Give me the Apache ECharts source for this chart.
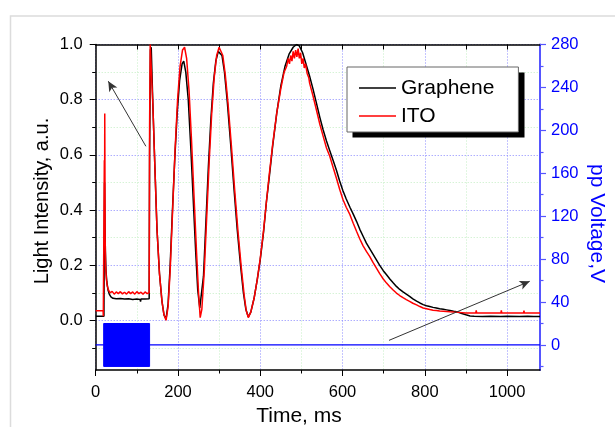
<!DOCTYPE html>
<html>
<head>
<meta charset="utf-8">
<script src="https://cdn.jsdelivr.net/npm/echarts@6/dist/echarts.min.js"></script>
<style>
html,body{margin:0;padding:0;background:#fff;}
#chart{width:615px;height:427px;}
</style>
</head>
<body>
<div id="chart"></div>
<script>
// ---- data (time in ms, light intensity in a.u.) ----
const graphene = [
 [0,0.015],[20,0.015],[21,0.015],[21.5,0.5],[22.5,0.35],[23.5,0.25],[25,0.18],[27,0.14],[30,0.11],[33,0.095],[37,0.085],[42,0.08],
 [50,0.078],[60,0.079],[70,0.077],[80,0.078],[90,0.076],[100,0.077],[108,0.076],[109,0.068],[110,0.077],[120,0.077],[130,0.078],
 [131,0.6],[133,0.98],[135,0.99],[139,0.78],[144,0.55],[149,0.33],[155,0.17],[161,0.07],[166,0.02],[171,0.005],
 [176,0.06],[181,0.2],[186,0.38],[192,0.58],[198,0.75],[204,0.87],[210,0.93],[214,0.94],[219,0.9],[225,0.8],[231,0.63],
 [237,0.44],[243,0.25],[248,0.11],[253,0.045],[256,0.05],[262,0.16],[268,0.36],[274,0.56],[280,0.73],[286,0.86],[292,0.94],
 [298,0.975],[302,0.978],[307,0.96],[313,0.9],[320,0.79],[328,0.64],[336,0.48],[344,0.33],[352,0.2],[359,0.1],[365,0.04],
 [371,0.012],[377,0.03],[385,0.08],[393,0.15],[400,0.22],[408,0.32],[415,0.43],[422,0.52],[430,0.63],[440,0.75],[450,0.85],
 [460,0.92],[470,0.965],[480,0.99],[488,1.0],[495,0.995],[503,0.97],[511,0.93],[520,0.885],[528,0.84],[537,0.785],[545,0.735],
 [553,0.69],[561,0.65],[569,0.615],[577,0.58],[585,0.545],[593,0.505],[601,0.47],[609,0.44],[618,0.41],[626,0.385],[634,0.359],
 [642,0.33],[650,0.305],[658,0.28],[666,0.26],[674,0.24],[682,0.22],[690,0.2],[699,0.18],[707,0.165],[715,0.15],[723,0.136],
 [731,0.123],[739,0.112],[747,0.103],[755,0.095],[763,0.087],[771,0.078],[780,0.07],[788,0.063],[796,0.057],[804,0.053],
 [812,0.05],[820,0.047],[828,0.045],[836,0.042],[845,0.04],[853,0.038],[861,0.036],[870,0.033],[880,0.03],[890,0.025],
 [900,0.02],[910,0.016],[920,0.015],[940,0.014],[960,0.015],[961,0.008],[962,0.015],[985,0.014],[1000,0.015],[1001,0.008],
 [1002,0.015],[1030,0.014],[1050,0.015],[1051,0.009],[1052,0.015],[1065,0.014],[1066,0.008],[1067,0.014],[1080,0.014]
];
const ito = [
 [0,0.035],[18,0.035],[18.5,0.015],[20.5,0.015],[21,0.58],[21.5,0.3],[22,0.75],[23,0.3],[24,0.2],[26,0.15],[28,0.125],[31,0.11],
 [35,0.1],[40,0.105],[45,0.095],[50,0.103],[55,0.097],[60,0.104],[65,0.096],[70,0.102],[75,0.095],[80,0.104],[85,0.097],
 [90,0.103],[95,0.095],[100,0.104],[105,0.097],[110,0.102],[115,0.095],[120,0.103],[125,0.097],[130,0.1],
 [131,0.7],[132.5,1.0],[135,1.0],[139,0.78],[144,0.55],[149,0.33],[155,0.17],[161,0.07],[166,0.02],[171,0.0],
 [176,0.05],[181,0.18],[187,0.4],[193,0.62],[199,0.8],[205,0.92],[211,0.98],[216,0.99],[221,0.95],[227,0.83],[233,0.65],
 [239,0.45],[245,0.25],[250,0.1],[254,0.01],[258,0.04],[264,0.18],[270,0.38],[276,0.58],[282,0.75],[288,0.88],[294,0.96],
 [300,0.99],[304,0.99],[309,0.96],[315,0.89],[322,0.78],[330,0.63],[338,0.47],[346,0.32],[354,0.19],[361,0.09],[366,0.035],
 [371,0.01],[377,0.03],[385,0.08],[393,0.15],[400,0.225],[408,0.325],[415,0.43],[422,0.53],[430,0.635],[440,0.75],[450,0.84],
 [458,0.9],[464,0.92],[468,0.95],[471,0.93],[474,0.96],[477,0.94],[480,0.975],[483,0.95],[486,0.98],[489,0.955],[492,0.985],
 [495,0.95],[498,0.97],[501,0.93],[504,0.95],[507,0.915],[510,0.93],[514,0.895],[518,0.88],[520,0.86],[528,0.815],[537,0.76],
 [545,0.71],[553,0.667],[561,0.625],[569,0.595],[577,0.555],[585,0.516],[593,0.475],[601,0.438],[609,0.41],[618,0.383],
 [626,0.352],[634,0.323],[642,0.295],[650,0.27],[658,0.25],[666,0.232],[674,0.21],[682,0.19],[690,0.17],[699,0.15],[707,0.135],
 [715,0.122],[723,0.11],[731,0.099],[739,0.09],[747,0.082],[755,0.075],[763,0.069],[771,0.062],[780,0.056],[788,0.05],
 [796,0.045],[804,0.042],[812,0.039],[820,0.037],[828,0.036],[836,0.034],[845,0.033],[853,0.032],[861,0.031],[870,0.03],
 [880,0.029],[890,0.028],[900,0.027],[924,0.027],[925,0.036],[926,0.027],[955,0.027],[956,0.034],[957,0.027],[985,0.027],
 [986,0.036],[987,0.027],[1010,0.027],[1011,0.034],[1012,0.027],[1040,0.027],[1041,0.035],[1042,0.027],[1065,0.027],
 [1066,0.034],[1067,0.027],[1080,0.027]
];
// pp voltage (V): zero baseline and the driving pulse block
const voltageT = [0, 1080];
const voltageV = [0, 0];
const pulseStart = 19.4, pulseEnd = 131, pulseAmp = 20;
// arrows [tail, head] in (ms, a.u.)
const arrow1 = [[122, 0.631], [30.6, 0.867]];
const arrow2 = [[713, -0.0725], [1055, 0.1415]];
// tick values
const xMajor = [0, 200, 400, 600, 800, 1000];
const xMinor = [100, 300, 500, 700, 900];
const xTop = [100, 200, 300, 400, 500, 600, 700, 800, 900, 1000];
const yMajor = [0, 0.2, 0.4, 0.6, 0.8, 1.0];
const yMinor = [-0.1, 0.1, 0.3, 0.5, 0.7, 0.9];
const vMajor = [0, 40, 80, 120, 160, 200, 240, 280];
const vMinor = [-20, 20, 60, 100, 140, 180, 220, 260];
// titles
const xTitle = 'Time, ms';
const yTitle = 'Light Intensity, a.u.';
const vTitle = 'pp Voltage,V';

const FONT = 'Liberation Sans, Arial, sans-serif';
const BLUE = '#0000ff';
const chart = echarts.init(document.getElementById('chart'), null, {renderer: 'canvas'});

chart.setOption({
  backgroundColor: '#fff',
  animation: false,
  graphic: [
    {
      type: 'rect', silent: true, z: -10,
      shape: {x: 10.5, y: 16, width: 700, height: 600},
      style: {fill: null, stroke: '#dcdcdc', lineWidth: 1.5}
    },
    {
      // legend drop shadow
      type: 'rect', silent: true, z: 3.5,
      shape: {x: 352.5, y: 72.5, width: 172, height: 65},
      style: {fill: '#000'}
    },
    {
      type: 'text', silent: true, x: 299, y: 416, z: 5,
      style: {text: xTitle, font: '21px ' + FONT, fill: '#000', align: 'center', verticalAlign: 'middle'}
    },
    {
      type: 'text', silent: true, x: 42.5, y: 201, rotation: Math.PI / 2, z: 5,
      style: {text: yTitle, font: '20px ' + FONT, fill: '#000', align: 'center', verticalAlign: 'middle'}
    },
    {
      type: 'text', silent: true, x: 597, y: 223.5, rotation: -Math.PI / 2, z: 5,
      style: {text: vTitle, font: '21px ' + FONT, fill: BLUE, align: 'center', verticalAlign: 'middle'}
    }
  ],
  grid: {left: 95.7, right: 75, top: 44.5, bottom: 57, containLabel: false},
  legend: {
    data: ['Graphene', 'ITO'],
    orient: 'vertical', left: 347, top: 67, z: 5,
    icon: 'rect', itemWidth: 37, itemHeight: 1.5,
    padding: [10, 24, 5, 12], itemGap: 6,
    backgroundColor: '#fff', borderColor: '#666', borderWidth: 1,
    textStyle: {fontFamily: FONT, fontSize: 21, color: '#000', lineHeight: 22},
    selectedMode: false
  },
  xAxis: [
    {
      type: 'value', position: 'bottom', min: 0, max: 1080,
      axisLine: {show: true, onZero: false, lineStyle: {color: '#000', width: 1.5}},
      axisTick: {show: true, customValues: xMajor, length: 6, lineStyle: {color: '#000', width: 1}},
      axisLabel: {show: true, customValues: xMajor, margin: 14, fontFamily: FONT, fontSize: 16.5, color: '#000',
                  formatter: v => String(v)},
      splitLine: {show: true, lineStyle: {color: '#8888ff', width: 1, type: [1, 2]}}
    },
    {
      type: 'value', position: 'bottom', min: 0, max: 1080,
      axisLine: {show: false, onZero: false},
      axisTick: {show: true, customValues: xMinor, length: 3.5, lineStyle: {color: '#000', width: 1}},
      axisLabel: {show: false},
      splitLine: {show: true, lineStyle: {color: '#c4eec4', width: 1, type: [1, 2]}}
    },
    {
      type: 'value', position: 'top', min: 0, max: 1080,
      axisLine: {show: true, onZero: false, lineStyle: {color: '#000', width: 1.5}},
      axisTick: {show: true, inside: true, customValues: xTop, length: 5, lineStyle: {color: '#000', width: 1}},
      axisLabel: {show: false},
      splitLine: {show: false}
    }
  ],
  yAxis: [
    {
      type: 'value', position: 'left', min: -0.18, max: 1.0,
      axisLine: {show: true, onZero: false, lineStyle: {color: '#000', width: 1.5}},
      axisTick: {show: true, customValues: yMajor, length: 6, lineStyle: {color: '#000', width: 1}},
      axisLabel: {show: true, customValues: yMajor, margin: 13, fontFamily: FONT, fontSize: 16.5, color: '#000',
                  formatter: v => v.toFixed(1)},
      splitLine: {show: true, lineStyle: {color: '#8888ff', width: 1, type: [1, 2]}}
    },
    {
      type: 'value', position: 'left', min: -0.18, max: 1.0,
      axisLine: {show: false, onZero: false},
      axisTick: {show: true, customValues: yMinor, length: 3.5, lineStyle: {color: '#000', width: 1}},
      axisLabel: {show: false},
      splitLine: {show: true, lineStyle: {color: '#c4eec4', width: 1, type: [1, 2]}}
    },
    {
      type: 'value', position: 'right', min: -23.33, max: 280,
      axisLine: {show: true, onZero: false, lineStyle: {color: '#5555ff', width: 2}},
      axisTick: {show: true, customValues: vMajor, length: 6, lineStyle: {color: '#5555ff', width: 1.2}},
      axisLabel: {show: true, customValues: vMajor, margin: 11, fontFamily: FONT, fontSize: 16.5, color: BLUE},
      splitLine: {show: false}
    },
    {
      type: 'value', position: 'right', min: -23.33, max: 280,
      axisLine: {show: false, onZero: false},
      axisTick: {show: true, customValues: vMinor, length: 3.5, lineStyle: {color: '#5555ff', width: 1.2}},
      axisLabel: {show: false},
      splitLine: {show: false}
    }
  ],
  series: [
    {
      name: 'pp Voltage', type: 'line', xAxisIndex: 0, yAxisIndex: 2,
      data: voltageT.map((t, i) => [t, voltageV[i]]),
      symbol: 'none', lineStyle: {color: BLUE, width: 1.2}, itemStyle: {color: BLUE}, z: 2,
      markArea: {
        silent: true,
        itemStyle: {color: BLUE, opacity: 1, borderColor: BLUE, borderWidth: 1},
        data: [[{coord: [pulseStart, pulseAmp]}, {coord: [pulseEnd, -pulseAmp]}]]
      }
    },
    {
      name: 'Graphene', type: 'line', xAxisIndex: 0, yAxisIndex: 0, data: graphene,
      symbol: 'none', lineStyle: {color: '#000', width: 1.5}, itemStyle: {color: '#000'}, z: 3,
      markLine: {
        silent: true, symbol: ['none', 'arrow'], symbolSize: [7, 10],
        label: {show: false},
        lineStyle: {color: '#333', width: 1, type: 'solid'},
        data: [
          [{coord: arrow1[0]}, {coord: arrow1[1]}],
          [{coord: arrow2[0]}, {coord: arrow2[1]}]
        ]
      }
    },
    {
      name: 'ITO', type: 'line', xAxisIndex: 0, yAxisIndex: 0, data: ito,
      symbol: 'none', lineStyle: {color: '#ff0000', width: 1.5}, itemStyle: {color: '#ff0000'}, z: 4
    }
  ]
});
</script>
</body>
</html>
